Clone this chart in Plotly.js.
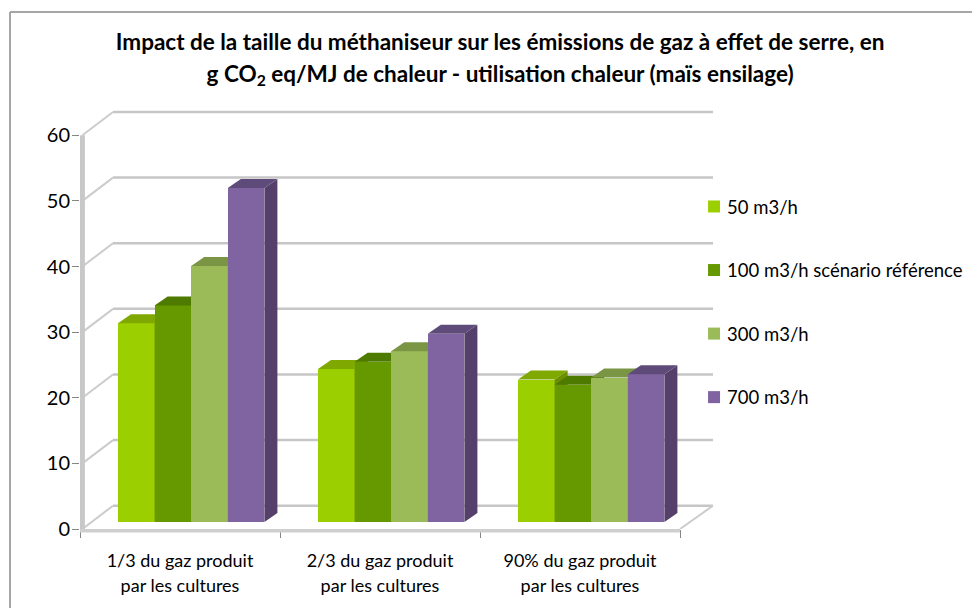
<!DOCTYPE html>
<html><head><meta charset="utf-8">
<script src="https://cdn.plot.ly/plotly-3.0.1.min.js"></script>
<style>html,body{margin:0;padding:0;background:#fff}#c{width:972px;height:608px}</style>
</head><body><div id="c"></div>
<script>
const categories = [
  "1/3 du gaz produit<br>par les cultures",
  "2/3 du gaz produit<br>par les cultures",
  "90% du gaz produit<br>par les cultures"
];
const seriesNames = ["50 m3/h", "100 m3/h scénario référence", "300 m3/h", "700 m3/h"];
const v50  = [30.3, 23.3, 21.7];
const v100 = [33.0, 24.4, 20.9];
const v300 = [39.0, 26.0, 22.0];
const v700 = [50.9, 28.7, 22.5];
const seriesValues = [v50, v100, v300, v700];
const frontColors = ["#9bcf00", "#669900", "#9bbb59", "#8064a2"];
const topColors   = ["#7fa800", "#4f7a00", "#7a9645", "#5f4b7a"];
const sideColors  = ["#6c9000", "#456a00", "#6c843e", "#54406a"];
const yTicks = [0, 10, 20, 30, 40, 50, 60];

const font = "Lato, Carlito, Calibri, sans-serif";
const wallDx = 0.165, wallDy = 3.55;     // depth of the chart box
const barDx = 0.065, barDy = 1.37;       // depth of a bar
const floorDy = 1.07;                    // bar base above front floor edge
const groupStart = 0.19, barW = 0.183;   // first bar offset within category, bar width
const xMax = 3.175, yMax = 64;

const traces = [];
const gx = [], gy = [], ox = [], oy = [];
yTicks.forEach(t => {
  gx.push(wallDx, 3 + wallDx, null); gy.push(t + wallDy, t + wallDy, null);
  ox.push(0.012, wallDx, null); oy.push(t, t + wallDy, null);
});
ox.push(3, 3 + wallDx, null); oy.push(0, wallDy, null);
traces.push({type:"scatter", mode:"lines", x:gx, y:gy, line:{color:"#c6c6c6", width:2.5}, showlegend:false, hoverinfo:"skip"});
traces.push({type:"scatter", mode:"lines", x:ox, y:oy, line:{color:"#cccccc", width:2}, showlegend:false, hoverinfo:"skip"});
traces.push({type:"scatter", mode:"lines", x:[0.012,0.012], y:[0,60], line:{color:"#c8c8c8", width:5}, showlegend:false, hoverinfo:"skip"});

const axes = {};
seriesValues.forEach((vals, s) => {
  const n = s + 2, xa = "x" + n, ya = "y" + n;
  axes["xaxis" + n] = {range:[0,xMax], overlaying:"x", visible:false, fixedrange:true};
  axes["yaxis" + n] = {range:[0,yMax], overlaying:"y", visible:false, fixedrange:true};
  const barX = vals.map((_, g) => g + groupStart + barW * (s + 0.5));
  traces.push({type:"bar", name:seriesNames[s], x:barX, y:vals, base:floorDy, width:barW, xaxis:xa, yaxis:ya,
    marker:{color:frontColors[s], line:{width:0}}, legendgroup:"g"+s, hovertemplate:"%{y}<extra>"+seriesNames[s]+"</extra>"});
  vals.forEach((v, g) => {
    const xl = barX[g] - barW/2, xr = barX[g] + barW/2, t = floorDy + v, b = floorDy;
    traces.push({type:"scatter", mode:"lines", x:[xr,xr+barDx,xr+barDx,xr,xr], y:[b,b+barDy,t+barDy,t,b],
      fill:"toself", fillcolor:sideColors[s], line:{width:0}, xaxis:xa, yaxis:ya, showlegend:false, hoverinfo:"skip"});
    traces.push({type:"scatter", mode:"lines", x:[xl,xr,xr+barDx,xl+barDx,xl], y:[t,t,t+barDy,t+barDy,t],
      fill:"toself", fillcolor:topColors[s], line:{width:0}, xaxis:xa, yaxis:ya, showlegend:false, hoverinfo:"skip"});
  });
});

const layout = Object.assign({
  width:972, height:608, paper_bgcolor:"#fff", plot_bgcolor:"rgba(0,0,0,0)",
  margin:{l:80, r:257, t:109, b:79, autoexpand:false},
  font:{family:font, color:"#000"},
  title:{
    text:'<span style="font-size:22.5px">Impact de la taille du méthaniseur sur les émissions de gaz à effet de serre, en<br>g CO<sub>2</sub> eq/MJ de chaleur - utilisation chaleur (maïs ensilage)</span>',
    font:{family:font, size:24.5, color:"#000", weight:700}, x:0.5145, xanchor:"center", y:0.918, yanchor:"middle"
  },
  bargap:0,
  xaxis:{range:[0,xMax], fixedrange:true, showgrid:false, zeroline:false, showline:false,
    tickmode:"array", tickvals:[0.5,1.5,2.5],
    ticktext:categories.map(c => '<span style="font-size:18px">'+c+'</span>'),
    tickfont:{family:font, size:19.5, color:"#000"}, ticks:"", ticklabelstandoff:17,
    minor:{tickmode:"array", tickvals:[0,1,2,3], ticks:"outside", ticklen:8, tickcolor:"#868686", tickwidth:1, showgrid:false}},
  yaxis:{range:[0,yMax], fixedrange:true, showgrid:false, zeroline:false, showline:false,
    tickmode:"array", tickvals:yTicks, ticks:"outside", ticklen:7, tickcolor:"#868686", tickwidth:1, ticklabelstandoff:-2,
    tickfont:{family:font, size:20, color:"#000"}},
  showlegend:true,
  legend:{x:0.967, xanchor:"left", y:0.812, yanchor:"top", traceorder:"grouped", tracegroupgap:36.5,
    font:{family:font, size:18.5, color:"#000"}, bgcolor:"rgba(0,0,0,0)", borderwidth:0},
  shapes:[
    {type:"line", xref:"x", yref:"paper", x0:0, x1:3, y0:-1.8/420, y1:-1.8/420, line:{color:"#cfcfcf", width:3.5}, layer:"above"},
    {type:"line", xref:"paper", yref:"paper", x0:-70/635, x1:-70/635, y0:-79/420, y1:(529-12)/420, line:{color:"#a6a6a6", width:2}, layer:"below"},
    {type:"line", xref:"paper", yref:"paper", x0:-70/635, x1:892/635, y0:(529-12)/420, y1:(529-12)/420, line:{color:"#a6a6a6", width:2}, layer:"below"}
  ]
}, axes);

Plotly.newPlot("c", traces, layout, {displayModeBar:false, staticPlot:true}).then(() => {
  document.querySelectorAll("#c .legendtext").forEach(t => t.setAttribute("x", 33));
});
</script></body></html>
